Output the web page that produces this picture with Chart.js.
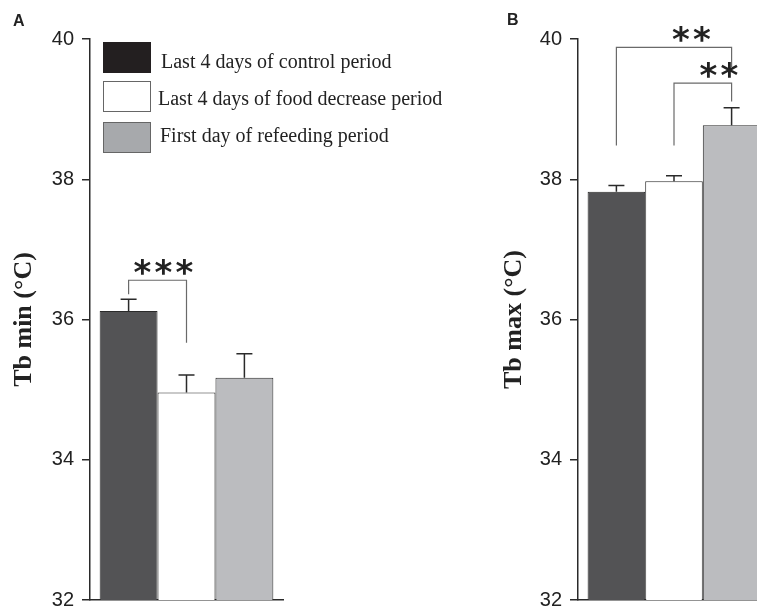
<!DOCTYPE html>
<html>
<head>
<meta charset="utf-8">
<script src="https://cdn.jsdelivr.net/npm/chart.js@4.4.1/dist/chart.umd.min.js"></script>
<style>
    body { margin: 0; background: #fff; overflow: hidden; }
    #wrap { position: relative; width: 757px; height: 610px; overflow: hidden; }
    .panel { position: absolute; top: 0; }
    .tag { position: absolute; font: bold 16px "Liberation Sans", Arial, sans-serif; color: #222; line-height: 16px; }
    .legend-box { position: absolute; left: 103px; width: 46px; height: 29px; border: 1px solid #666; }
    .legend-text { position: absolute; font: 20px "Liberation Serif", "Times New Roman", serif; color: #222; line-height: 20px; white-space: nowrap; }
</style>
</head>
<body>
<div id="wrap">
    <canvas id="chartA" class="panel" style="left:0" width="300" height="620"></canvas>
    <canvas id="chartB" class="panel" style="left:490px" width="290" height="620"></canvas>
    <div class="tag" style="left:13px; top:13px;">A</div>
    <div class="tag" style="left:507px; top:12px;">B</div>
    <div class="legend-box" style="top:42px; background:#231f20; border-color:#231f20;"></div>
    <div class="legend-box" style="top:81px; background:#fff;"></div>
    <div class="legend-box" style="top:122px; background:#a7a9ac;"></div>
    <div class="legend-text" id="leg0" style="left:161px; top:51px;"></div>
    <div class="legend-text" id="leg1" style="left:158px; top:88px;"></div>
    <div class="legend-text" id="leg2" style="left:160px; top:125px;"></div>
</div>
<script>
const groups = ['Last 4 days of control period', 'Last 4 days of food decrease period', 'First day of refeeding period'];
const tbMin = [36.12, 34.96, 35.17];
const tbMinErr = [0.17, 0.25, 0.34];
const tbMax = [37.82, 37.97, 38.77];
const tbMaxErr = [0.09, 0.08, 0.25];
const yTicks = [32, 34, 36, 38, 40];

// significance brackets: bar indexes, bracket level and the lower ends of both legs
const sigMin = [
    { from: 0, to: 1, level: 36.56, endFrom: 36.36, endTo: 35.67, stars: '***', at: 0.6 }
];
const sigMax = [
    { from: 0, to: 2, level: 39.88, endFrom: 38.48, endTo: 39.6, stars: '**', at: 0.65 },
    { from: 1, to: 2, level: 39.37, endFrom: 38.48, endTo: 39.11, stars: '**', at: 0.78 }
];

const barFills = ['#535355', '#ffffff', '#bbbcbf'];
const ink = '#2a2a2a';

groups.forEach((g, i) => {
    document.getElementById('leg' + i).textContent = g;
});

const errorBarPlugin = {
    id: 'errorBars',
    afterDatasetsDraw(chart, args, opts) {
        const ctx = chart.ctx;
        const y = chart.scales.y;
        const centers = [];

        ctx.save();
        ctx.strokeStyle = ink;
        ctx.lineWidth = 1.5;
        chart.data.datasets.forEach((ds, i) => {
            const bar = chart.getDatasetMeta(i).data[0];
            const top = y.getPixelForValue(ds.data[0] + ds.errorBar);
            centers.push(bar.x);
            ctx.beginPath();
            ctx.moveTo(bar.x, bar.y);
            ctx.lineTo(bar.x, top);
            ctx.moveTo(bar.x - 8, top);
            ctx.lineTo(bar.x + 8, top);
            ctx.stroke();
        });

        ctx.strokeStyle = '#6a6a6a';
        ctx.lineWidth = 1.2;
        ctx.fillStyle = '#222';
        ctx.font = 'bold 34px "DejaVu Sans", sans-serif';
        ctx.textAlign = 'center';
        (opts.brackets || []).forEach(b => {
            const x1 = centers[b.from];
            const x2 = centers[b.to];
            const yl = y.getPixelForValue(b.level);
            ctx.beginPath();
            ctx.moveTo(x1, y.getPixelForValue(b.endFrom));
            ctx.lineTo(x1, yl);
            ctx.lineTo(x2, yl);
            ctx.lineTo(x2, y.getPixelForValue(b.endTo));
            ctx.stroke();

            const m = ctx.measureText('*');
            const cy = yl - 13;
            const mid = x1 + (x2 - x1) * b.at;
            const n = b.stars.length;
            for (let k = 0; k < n; k++) {
                const sx = mid + (k - (n - 1) / 2) * 21;
                ctx.fillText('*', sx, cy + (m.actualBoundingBoxAscent - m.actualBoundingBoxDescent) / 2);
            }
        });
        ctx.restore();
    }
};

function makePanel(canvasId, values, errors, title, brackets, axisWidth, rightPad) {
    const ctx = document.getElementById(canvasId).getContext('2d');

    return new Chart(ctx, {
        type: 'bar',
        data: {
            labels: [''],
            datasets: groups.map((g, i) => ({
                label: g,
                data: [values[i]],
                errorBar: errors[i],
                backgroundColor: barFills[i],
                borderColor: ink,
                borderWidth: 1,
                borderSkipped: false
            }))
        },
        options: {
            responsive: false,
            animation: false,
            layout: { padding: { left: 0, top: 39, right: rightPad, bottom: 19 } },
            datasets: { bar: { categoryPercentage: 0.9, barPercentage: 1 } },
            plugins: {
                legend: { display: false },
                tooltip: { enabled: false },
                errorBars: { brackets: brackets }
            },
            scales: {
                x: {
                    grid: { display: false },
                    ticks: { display: false },
                    border: { color: ink, width: 1.5 },
                    afterFit: s => { s.height = 0; }
                },
                y: {
                    min: yTicks[0],
                    max: yTicks[yTicks.length - 1],
                    ticks: {
                        stepSize: yTicks[1] - yTicks[0],
                        color: '#222',
                        padding: 8,
                        font: { family: '"Liberation Sans", Arial, sans-serif', size: 20 }
                    },
                    grid: { drawOnChartArea: false, tickLength: 8, color: ink, lineWidth: 1.5 },
                    border: { color: ink, width: 1.5 },
                    title: {
                        display: true,
                        text: title,
                        color: '#222',
                        padding: { top: 9, bottom: 0 },
                        font: { family: '"Liberation Serif", "Times New Roman", serif', size: 26, weight: 'bold' }
                    },
                    afterFit: s => { s.width = axisWidth; }
                }
            }
        },
        plugins: [errorBarPlugin]
    });
}

makePanel('chartA', tbMin, tbMinErr, 'Tb min (°C)', sigMin, 90, 17);
makePanel('chartB', tbMax, tbMaxErr, 'Tb max (°C)', sigMax, 88, 10);
</script>
</body>
</html>
